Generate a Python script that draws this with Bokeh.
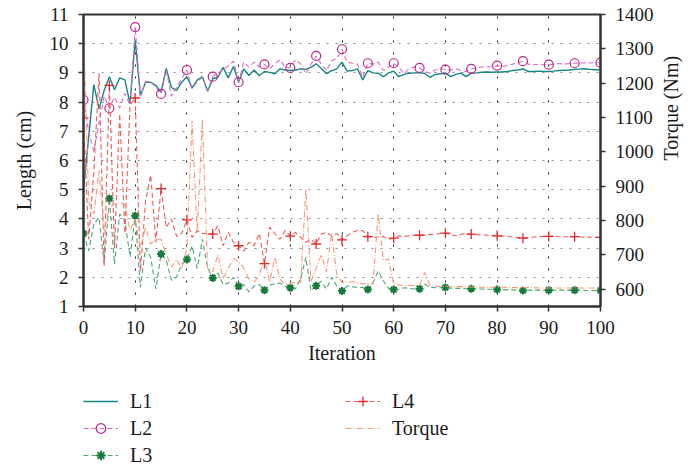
import math
from bokeh.plotting import figure
from bokeh.layouts import column
from bokeh.models import Range1d, LinearAxis, Legend, LegendItem, FixedTicker
from bokeh.embed import file_html
from bokeh.resources import INLINE

iteration = list(range(101))

L1 = [5.0, 6.8, 8.6, 7.77, 8.4, 8.87, 8.42, 8.83, 8.76, 7.95,
      10.13, 8.22, 8.68, 8.68, 8.57, 8.34, 9.15, 8.5, 8.4, 8.68,
      8.87, 8.49, 8.75, 8.87, 8.37, 8.8, 8.85, 9.19, 8.83, 9.22,
      8.68, 9.14, 8.91, 9.1, 8.91, 9.05, 9.02, 8.97, 9.14, 9.1,
      9.08, 9.1, 9.14, 9.12, 9.19, 9.31, 9.15, 8.97, 9.08, 9.14,
      9.37, 9.06, 9.08, 9.14, 8.76, 9.08, 9.0, 8.99, 8.87, 9.0,
      9.06, 8.87, 8.95, 8.99, 9.0, 9.01, 8.98, 8.85, 8.95, 8.97,
      8.99, 8.87, 8.95, 8.99, 8.87, 8.99, 9.0, 9.02, 9.03, 9.02,
      9.03, 9.03, 9.05, 9.08, 9.1, 9.14, 9.05, 9.05, 9.06, 9.05,
      9.05, 9.06, 9.08, 9.09, 9.1, 9.12, 9.13, 9.14, 9.12, 9.11,
      9.1]

L2 = [8.08, 7.0, 6.3, 7.3, 8.2, 7.79, 8.17, 7.8, 8.3, 7.9,
      10.57, 8.2, 8.7, 8.7, 8.5, 8.28, 9.1, 8.2, 8.5, 8.8,
      9.1, 8.45, 8.7, 8.85, 8.4, 8.87, 9.0, 9.1, 9.25, 9.4,
      8.68, 9.37, 9.2, 9.37, 9.2, 9.29, 9.14, 9.31, 9.45, 9.2,
      9.17, 9.45, 9.31, 8.97, 9.3, 9.58, 9.3, 9.08, 9.42, 9.5,
      9.81, 9.37, 9.33, 9.3, 8.85, 9.33, 9.3, 9.37, 9.08, 9.2,
      9.33, 9.2, 8.97, 9.15, 9.2, 9.17, 9.05, 8.99, 9.1, 9.15,
      9.11, 9.1, 9.15, 9.08, 9.05, 9.14, 9.15, 9.2, 9.22, 9.2,
      9.25, 9.22, 9.25, 9.3, 9.35, 9.4, 9.3, 9.28, 9.3, 9.28,
      9.28, 9.3, 9.32, 9.3, 9.32, 9.33, 9.34, 9.35, 9.34, 9.35,
      9.35]

L3 = [3.5, 2.91, 3.82, 4.05, 2.45, 4.7, 2.45, 4.17, 3.94, 2.7,
      4.11, 1.65, 3.0, 2.68, 1.6, 2.8, 2.6, 1.9, 2.0, 2.45,
      2.61, 3.06, 2.3, 3.3, 2.33, 1.98, 2.15, 1.75, 1.8, 2.0,
      1.69, 1.75, 1.5, 1.7, 1.75, 1.56, 1.73, 1.78, 1.8, 1.7,
      1.64, 1.6, 1.95, 2.68, 1.54, 1.71, 1.87, 1.6, 2.0, 1.7,
      1.53, 1.7, 1.68, 1.65, 1.65, 1.58, 1.8, 2.22, 1.88, 1.62,
      1.58, 1.6, 1.64, 1.62, 1.6, 1.61, 1.77, 1.66, 1.64, 1.64,
      1.65, 1.63, 1.62, 1.62, 1.61, 1.61, 1.6, 1.6, 1.59, 1.59,
      1.58, 1.58, 1.57, 1.57, 1.56, 1.55, 1.56, 1.56, 1.56, 1.56,
      1.56, 1.56, 1.56, 1.56, 1.56, 1.56, 1.56, 1.55, 1.55, 1.55,
      1.55]

L4 = [7.46, 3.3, 5.6, 9.0, 2.4, 8.57, 3.0, 7.6, 3.5, 7.9,
      8.14, 2.2, 4.6, 5.5, 3.2, 5.04, 3.7, 4.0, 3.4, 3.5,
      3.97, 3.37, 3.6, 3.5, 3.5, 3.48, 3.77, 3.08, 3.54, 3.2,
      3.08, 2.9, 3.2, 3.08, 3.5, 2.47, 3.72, 3.5, 3.3, 3.6,
      3.41, 3.54, 3.37, 3.2, 3.3, 3.14, 3.48, 3.54, 3.42, 3.5,
      3.28, 3.42, 3.54, 3.6, 3.6, 3.39, 3.37, 3.38, 3.4, 3.3,
      3.34, 3.42, 3.4, 3.42, 3.44, 3.44, 3.45, 3.47, 3.48, 3.5,
      3.51, 3.46, 3.42, 3.47, 3.5, 3.48, 3.46, 3.45, 3.44, 3.43,
      3.42, 3.41, 3.4, 3.38, 3.36, 3.34, 3.36, 3.38, 3.39, 3.4,
      3.4, 3.4, 3.39, 3.39, 3.39, 3.39, 3.38, 3.38, 3.37, 3.37,
      3.37]

torque = [1368, 855, 819, 945, 770, 838, 847, 853, 847, 770,
          804, 719, 780, 731, 745, 745, 702, 663, 685, 660,
          719, 1090, 762, 1095, 660, 650, 700, 630, 660, 690,
          680, 660, 630, 620, 640, 690, 620, 692, 628, 615,
          615, 620, 618, 891, 622, 660, 700, 650, 762, 640,
          620, 620, 621, 618, 615, 615, 615, 819, 683, 688,
          615, 612, 610, 610, 610, 612, 648, 610, 608, 608,
          608, 607, 607, 607, 606, 606, 606, 605, 605, 605,
          605, 605, 604, 604, 604, 604, 604, 604, 603, 603,
          603, 603, 603, 603, 603, 603, 603, 603, 603, 603,
          603]

x_ticks = [0, 10, 20, 30, 40, 50, 60, 70, 80, 90, 100]
length_ticks = [1, 2, 3, 4, 5, 6, 7, 8, 9, 10, 11]
torque_ticks = [600, 700, 800, 900, 1000, 1100, 1200, 1300, 1400]
marker_every = 5

FONT = "Liberation Serif"

# ---------------- main chart ----------------
p = figure(width=695, height=372, output_backend="svg", toolbar_location=None,
           x_range=Range1d(0, 100), y_range=Range1d(1, 11),
           min_border_left=83, min_border_right=92, min_border_top=14,
           min_border_bottom=66)
p.extra_y_ranges = {"torque": Range1d(549, 1400)}

p.background_fill_color = "white"
p.border_fill_color = "white"
p.outline_line_color = "#333333"
p.outline_line_width = 2

p.xgrid.ticker = FixedTicker(ticks=x_ticks)
p.ygrid.ticker = FixedTicker(ticks=length_ticks)
p.xgrid.grid_line_color = "#222222"
p.xgrid.grid_line_dash = "2 10"
p.xgrid.grid_line_width = 1
p.ygrid.grid_line_color = "#8a8a8a"
p.ygrid.grid_line_dash = "2 7"
p.ygrid.grid_line_width = 1

def style_axis(ax):
    ax.axis_line_color = "#333333"
    ax.axis_line_width = 2
    ax.major_tick_line_color = "#333333"
    ax.major_tick_line_width = 1.5
    ax.major_tick_out = 5
    ax.major_tick_in = 0
    ax.minor_tick_line_color = None
    ax.major_label_text_font = FONT
    ax.major_label_text_font_size = "19px"
    ax.major_label_text_color = "#1a1a1a"
    ax.axis_label_text_font = FONT
    ax.axis_label_text_font_size = "20px"
    ax.axis_label_text_font_style = "normal"
    ax.axis_label_text_color = "#1a1a1a"

xa = p.xaxis[0]
xa.ticker = FixedTicker(ticks=x_ticks)
xa.axis_label = "Iteration"
style_axis(xa)
xa.major_label_standoff = 9
xa.axis_label_standoff = 5

ya = p.yaxis[0]
ya.ticker = FixedTicker(ticks=length_ticks)
ya.axis_label = "Length (cm)"
style_axis(ya)
ya.major_label_standoff = 10
ya.axis_label_standoff = 12

ra = LinearAxis(y_range_name="torque", ticker=FixedTicker(ticks=torque_ticks),
                axis_label="Torque (Nm)")
style_axis(ra)
ra.major_label_standoff = 10
ra.axis_label_standoff = 14
try:
    ra.axis_label_orientation = math.pi / 2
except Exception:
    pass
p.add_layout(ra, "right")

# styles
c_l1 = "#168686"
c_l2_line, c_l2_mk = "#dc6cc4", "#c0238c"
c_l3_line, c_l3_mk = "#4fa673", "#167a3c"
c_l4_line, c_l4_mk = "#ee5c5c", "#e02a2a"
c_tq = "#f39a7c"

sty_l1 = dict(line_color=c_l1, line_width=1.4)
sty_l2 = dict(line_color=c_l2_line, line_width=1.1, line_dash="5 3")
sty_l2m = dict(marker="circle", size=9, fill_color=None, line_color=c_l2_mk, line_width=1.2)
sty_l3 = dict(line_color=c_l3_line, line_width=1.1, line_dash="5 3")
sty_l3m = dict(marker="asterisk", size=8, line_color=c_l3_mk, line_width=2)
sty_l4 = dict(line_color=c_l4_line, line_width=1.1, line_dash="5 3")
sty_l4m = dict(marker="cross", size=10, line_color=c_l4_mk, line_width=1.3)
sty_tq = dict(line_color=c_tq, line_width=1.1, line_dash="6 2 1 2")

mk_x = iteration[::marker_every]

p.line(iteration, L1, **sty_l1)
p.line(iteration, L2, **sty_l2)
p.scatter(mk_x, [L2[i] for i in mk_x], **sty_l2m)
p.line(iteration, L3, **sty_l3)
p.scatter(mk_x, [L3[i] for i in mk_x], **sty_l3m)
p.line(iteration, L4, **sty_l4)
p.scatter(mk_x, [L4[i] for i in mk_x], **sty_l4m)
p.line(iteration, torque, y_range_name="torque", **sty_tq)

# ---------------- legend strip (same series, ranges chosen so only the legend shows) ----
lg = figure(width=695, height=92, output_backend="svg", toolbar_location=None,
            x_range=Range1d(-3, -2), y_range=Range1d(0, 1),
            x_axis_type=None, y_axis_type=None,
            min_border=0, min_border_left=0, min_border_right=0,
            min_border_top=0, min_border_bottom=0)
lg.outline_line_color = None
lg.grid.visible = False
lg.background_fill_color = "white"
lg.border_fill_color = "white"

e1 = lg.line(iteration, L1, **sty_l1)
e2l = lg.line(iteration, L2, **sty_l2)
e2m = lg.scatter(mk_x, [L2[i] for i in mk_x], **sty_l2m)
e3l = lg.line(iteration, L3, **sty_l3)
e3m = lg.scatter(mk_x, [L3[i] for i in mk_x], **sty_l3m)
e4l = lg.line(iteration, L4, **sty_l4)
e4m = lg.scatter(mk_x, [L4[i] for i in mk_x], **sty_l4m)
et = lg.line(iteration, torque, **sty_tq)

def make_legend(items, loc):
    leg = Legend(items=items, location=loc, orientation="vertical")
    leg.border_line_color = None
    leg.background_fill_alpha = 0
    leg.padding = 0
    leg.margin = 0
    leg.spacing = 3
    leg.glyph_width = 35
    leg.glyph_height = 24
    leg.label_height = 24
    leg.label_standoff = 12
    leg.label_text_font = FONT
    leg.label_text_font_size = "20px"
    leg.label_text_color = "#1a1a1a"
    return leg

leg_a = make_legend([
    LegendItem(label="L1", renderers=[e1]),
    LegendItem(label="L2", renderers=[e2l, e2m]),
    LegendItem(label="L3", renderers=[e3l, e3m]),
], (0, -3))
leg_b = make_legend([
    LegendItem(label="L4", renderers=[e4l, e4m]),
    LegendItem(label="Torque", renderers=[et]),
], (262, 24))
lg.add_layout(leg_a, "center")
lg.add_layout(leg_b, "center")

layout = column(p, lg, spacing=0)
open("out.html", "w").write(file_html(layout, INLINE))
